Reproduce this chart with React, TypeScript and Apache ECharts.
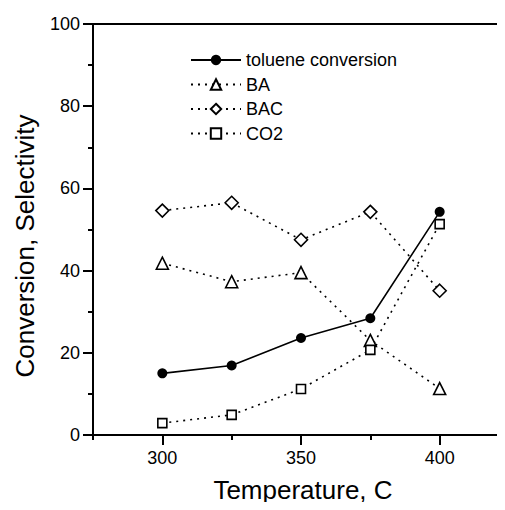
import React, { useEffect, useRef } from "react";
import * as echarts from "echarts";

const temperatures = [300, 325, 350, 375, 400];
const tolueneConversion = [15, 16.9, 23.6, 28.4, 54.3];
const baSelectivity = [41.8, 37.3, 39.5, 23, 11.3];
const bacSelectivity = [54.6, 56.5, 47.5, 54.3, 35.1];
const co2Selectivity = [2.9, 4.9, 11.2, 20.7, 51.3];
const xMajorTicks = [300, 350, 400];
const xMinorTicks = [275, 325, 375, 425];

const FONT = "Liberation Sans, Arial, sans-serif";

const pairs = (ys: number[]) => temperatures.map((t, i) => [t, ys[i]]);

export default function App() {
  const ref = useRef<HTMLDivElement>(null);
  useEffect(() => {
    if (!ref.current) return;
    const chart = echarts.init(ref.current, null, { renderer: "svg" });
    const dotted = { color: "#000", width: 1.6, type: [2, 5] as any };
    const openStyle = { color: "#fff", borderColor: "#000", borderWidth: 1.6 };
    chart.setOption({
      animation: false,
      backgroundColor: "#fff",
      grid: {
        left: 93,
        top: 24,
        width: 416,
        height: 411,
        show: true,
        borderColor: "#000",
        borderWidth: 2,
        containLabel: false,
        outerBoundsMode: "none",
      },
      legend: {
        orient: "vertical",
        left: 185,
        top: 46,
        itemWidth: 50,
        itemHeight: 13,
        itemGap: 6.5,
        textStyle: { fontFamily: FONT, fontSize: 18, color: "#000" },
        data: ["toluene conversion", "BA", "BAC", "CO2"],
      },
      xAxis: [
        {
          type: "value",
          min: 275,
          max: 425,
          axisLine: { show: true, lineStyle: { color: "#000", width: 2 } },
          axisTick: { show: true, length: 10, inside: false, customValues: xMajorTicks, lineStyle: { color: "#000", width: 2 } },
          axisLabel: { customValues: xMajorTicks, margin: 14, fontFamily: FONT, fontSize: 18, color: "#000" },
          splitLine: { show: false },
        },
        {
          type: "value",
          position: "bottom",
          min: 275,
          max: 425,
          axisLine: { show: false },
          axisTick: { show: true, length: 5, customValues: xMinorTicks, lineStyle: { color: "#000", width: 2 } },
          axisLabel: { show: false },
          splitLine: { show: false },
        },
      ],
      yAxis: {
        type: "value",
        min: 0,
        max: 100,
        interval: 20,
        axisLine: { show: true, lineStyle: { color: "#000", width: 2 } },
        axisTick: { show: true, length: 10, lineStyle: { color: "#000", width: 2 } },
        minorTick: { show: true, splitNumber: 2, length: 5, lineStyle: { color: "#000", width: 2 } },
        axisLabel: { margin: 13, fontFamily: FONT, fontSize: 18, color: "#000" },
        splitLine: { show: false },
      },
      graphic: [
        {
          type: "text",
          x: 25,
          y: 246,
          rotation: Math.PI / 2,
          style: {
            text: "Conversion, Selectivity",
            fontFamily: FONT,
            fontSize: 26,
            fill: "#000",
            textAlign: "center",
            textVerticalAlign: "middle",
          },
        },
        {
          type: "text",
          x: 303,
          y: 490,
          style: {
            text: "Temperature, C",
            fontFamily: FONT,
            fontSize: 26,
            fill: "#000",
            textAlign: "center",
            textVerticalAlign: "middle",
          },
        },
      ],
      series: [
        {
          name: "toluene conversion",
          type: "line",
          data: pairs(tolueneConversion),
          symbol: "circle",
          symbolSize: 10,
          lineStyle: { color: "#000", width: 1.6 },
          itemStyle: { color: "#000" },
        },
        {
          name: "BA",
          type: "line",
          data: pairs(baSelectivity),
          symbol: "triangle",
          symbolSize: 12,
          lineStyle: dotted,
          itemStyle: openStyle,
        },
        {
          name: "BAC",
          type: "line",
          data: pairs(bacSelectivity),
          symbol: "diamond",
          symbolSize: 13,
          lineStyle: dotted,
          itemStyle: openStyle,
        },
        {
          name: "CO2",
          type: "line",
          data: pairs(co2Selectivity),
          symbol: "rect",
          symbolSize: 9,
          lineStyle: dotted,
          itemStyle: openStyle,
        },
      ],
    });
    return () => chart.dispose();
  }, []);
  return <div ref={ref} style={{ width: 505, height: 510, margin: -8 }} />;
}
